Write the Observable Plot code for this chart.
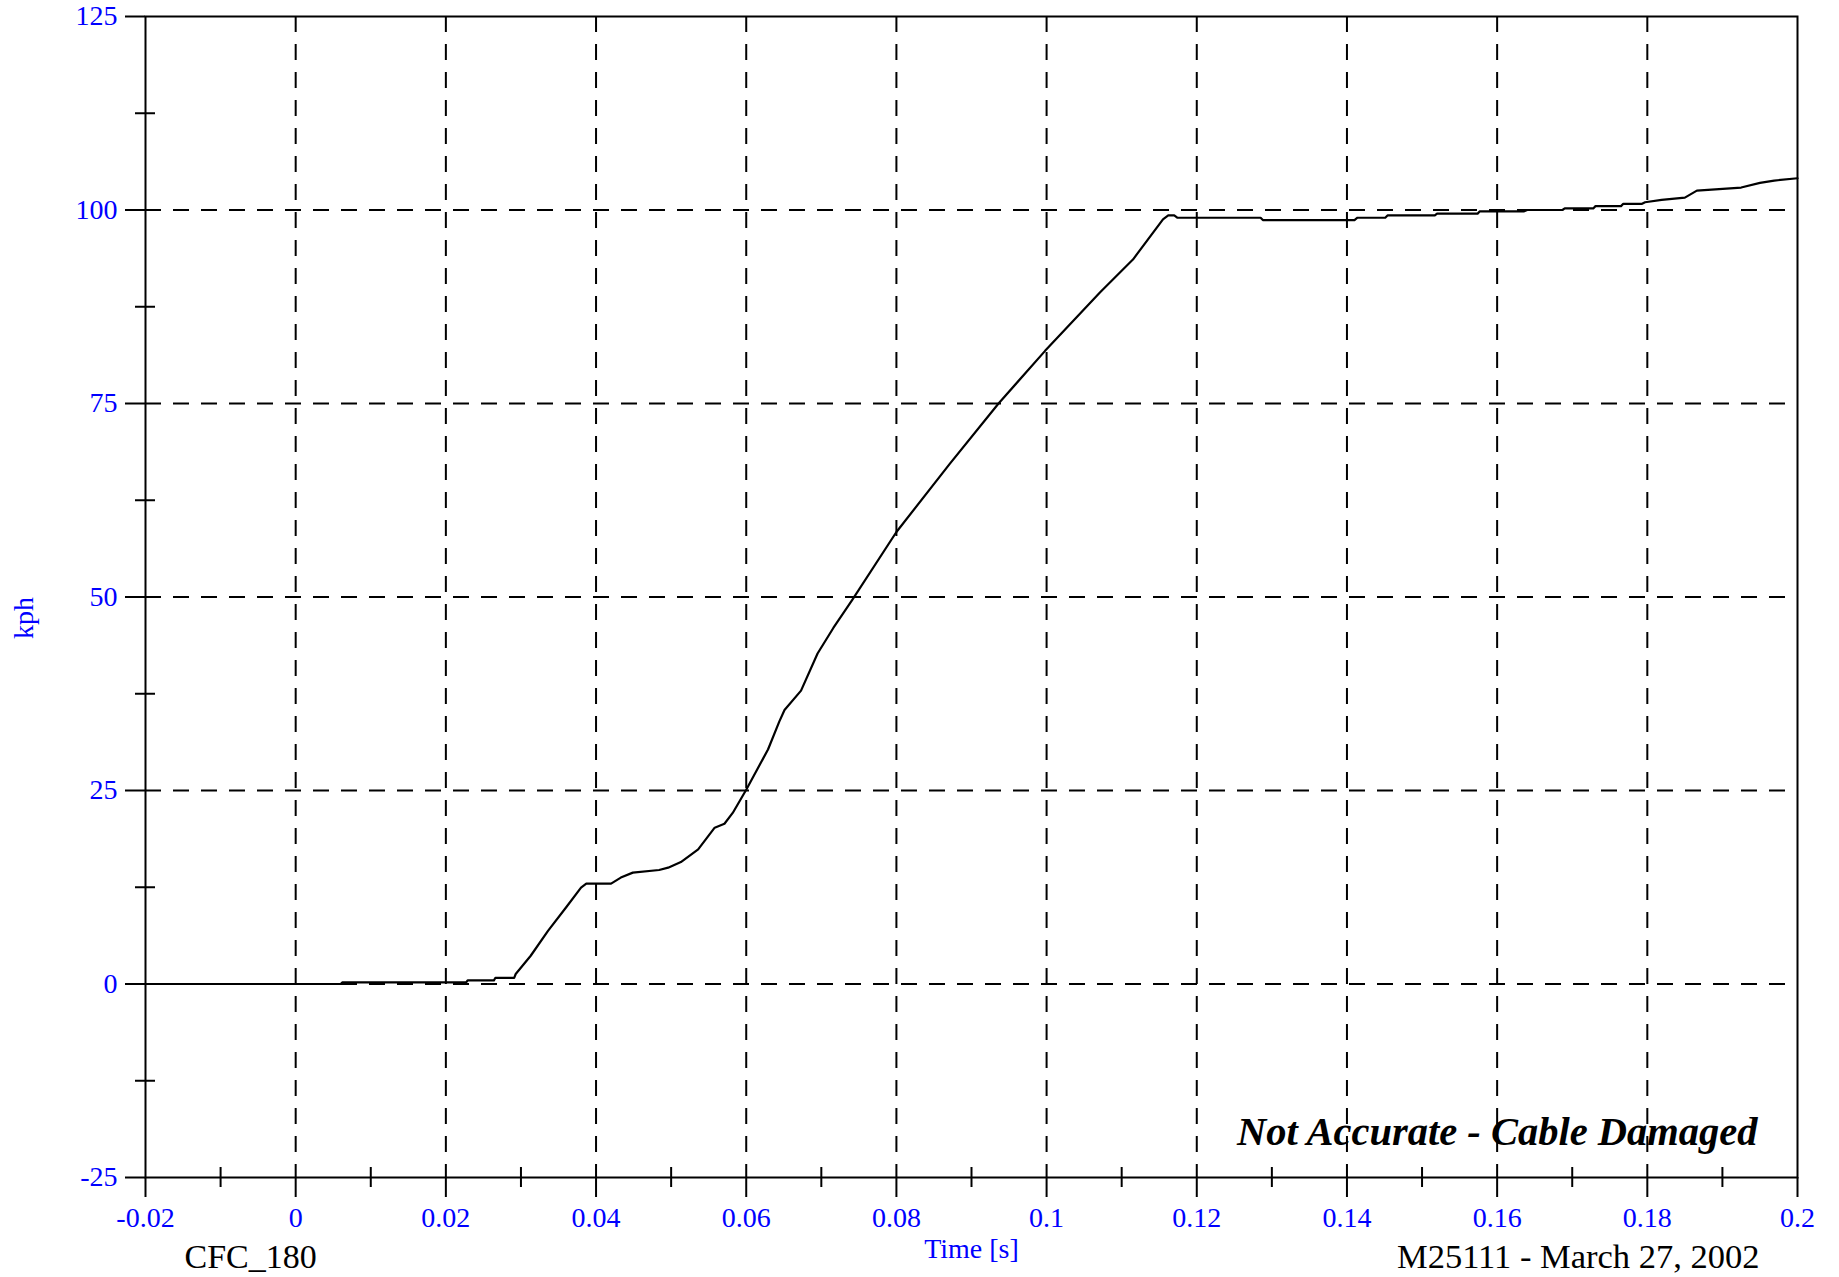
<!DOCTYPE html>
<html>
<head>
<meta charset="utf-8">
<script src="https://cdn.jsdelivr.net/npm/d3@7"></script>
<script src="https://cdn.jsdelivr.net/npm/@observablehq/plot@0.6"></script>
<style>
  html, body { margin: 0; padding: 0; background: #fff; overflow: hidden; }
</style>
</head>
<body>
<div id="chart"></div>
<script>
// ---- data ----
const time = [-0.02, 0.006, 0.0062, 0.0227, 0.0229, 0.0264, 0.0266, 0.0291, 0.0293, 0.0313,
  0.0336, 0.036, 0.038, 0.0387, 0.042, 0.0433, 0.0449, 0.0484, 0.0496, 0.0513,
  0.0536, 0.0558, 0.0571, 0.0582, 0.06, 0.0629, 0.0644, 0.0651, 0.0673, 0.0695,
  0.0716, 0.0741, 0.08, 0.0871, 0.0936, 0.0998, 0.1071, 0.1115, 0.1155, 0.1162,
  0.117, 0.1174, 0.1285, 0.1288, 0.141, 0.1414, 0.1451, 0.1454, 0.1517, 0.152,
  0.1574, 0.1577, 0.1636, 0.164, 0.1687, 0.169, 0.1728, 0.1731, 0.1765, 0.1768,
  0.1793, 0.1797, 0.1819, 0.185, 0.1866, 0.1925, 0.195, 0.1969, 0.2];
const kph = [0, 0, 0.2, 0.2, 0.47, 0.47, 0.8, 0.8, 1.29, 3.65,
  6.87, 9.88, 12.46, 12.97, 12.97, 13.75, 14.39, 14.73, 15.03, 15.76,
  17.4, 20.2, 20.7, 22.1, 25.1, 30.3, 33.9, 35.4, 37.9, 42.7,
  46.0, 49.6, 58.4, 67.2, 75, 81.8, 89.35, 93.6, 98.8, 99.3,
  99.3, 99.0, 99.0, 98.7, 98.7, 99.0, 99.0, 99.3, 99.3, 99.53,
  99.53, 99.83, 99.83, 100, 100, 100.2, 100.2, 100.5, 100.5, 100.8,
  100.8, 101.0, 101.3, 101.6, 102.5, 102.9, 103.5, 103.8, 104.1];

const xMajor = [-0.02, 0, 0.02, 0.04, 0.06, 0.08, 0.1, 0.12, 0.14, 0.16, 0.18, 0.2];
const xMinor = [-0.01, 0.01, 0.03, 0.05, 0.07, 0.09, 0.11, 0.13, 0.15, 0.17, 0.19];
const yMajor = [-25, 0, 25, 50, 75, 100, 125];
const yMinor = [-12.5, 12.5, 37.5, 62.5, 87.5, 112.5];
const xGrid = [0, 0.02, 0.04, 0.06, 0.08, 0.1, 0.12, 0.14, 0.16, 0.18];
const yGrid = [0, 25, 50, 75, 100];

const yLabel = "kph";
const xLabel = "Time [s]";
const filterNote = "CFC_180";
const testNote = "M25111 - March 27, 2002";
const warning = "Not Accurate - Cable Damaged";

const rows = time.map((t, i) => ({t, v: kph[i]}));
const fmtX = d => String(+d.toFixed(2));
const BLUE = "#0000ff";
const FONT = "'Liberation Serif', 'Times New Roman', serif";

const chart = Plot.plot({
  width: 1839,
  height: 1277,
  marginLeft: 145,
  marginRight: 42,
  marginTop: 16,
  marginBottom: 100,
  style: {fontFamily: FONT, fontSize: "28px", background: "#fff", overflow: "visible"},
  x: {domain: [-0.02, 0.2]},
  y: {domain: [-25, 125]},
  marks: [
    Plot.ruleX(xGrid, {stroke: "black", strokeWidth: 2, strokeDasharray: "16,12"}),
    Plot.ruleY(yGrid, {stroke: "black", strokeWidth: 2, strokeDasharray: "16,12"}),
    Plot.axisX({ticks: xMajor, tickSize: 20, tickPadding: 10, tickFormat: fmtX, stroke: "black", strokeWidth: 2,
      fill: BLUE, fontSize: 28, label: null}),
    Plot.axisX({ticks: xMinor, tickSize: 20, dy: -10, tickFormat: () => "", stroke: "black", strokeWidth: 2, label: null}),
    Plot.axisY({ticks: yMajor, tickSize: 20, tickPadding: 8, tickFormat: d => String(d), stroke: "black", strokeWidth: 2,
      fill: BLUE, fontSize: 28, label: null}),
    Plot.axisY({ticks: yMinor, tickSize: 20, dx: 10, tickFormat: () => "", stroke: "black", strokeWidth: 2, label: null}),
    Plot.frame({stroke: "black", strokeWidth: 2}),
    Plot.line(rows, {x: "t", y: "v", stroke: "black", strokeWidth: 2.2}),
    Plot.text([yLabel], {text: d => d, frameAnchor: "left", dx: -121, dy: 42, rotate: -90, fill: BLUE, fontSize: 28}),
    Plot.text([xLabel], {text: d => d, frameAnchor: "bottom", dx: 0, dy: 80, fill: BLUE, fontSize: 28}),
    Plot.text([filterNote], {text: d => d, frameAnchor: "bottom-left", textAnchor: "start", dx: 39, dy: 90, fill: "black", fontSize: 34}),
    Plot.text([testNote], {text: d => d, frameAnchor: "bottom-right", textAnchor: "end", dx: -38, dy: 90, fill: "black", fontSize: 34.5}),
    Plot.text([warning], {text: d => d, frameAnchor: "bottom-right", textAnchor: "end", dx: -40, dy: -33, fill: "black",
      fontSize: 40.5, fontWeight: "bold", fontStyle: "italic"})
  ]
});
document.getElementById("chart").appendChild(chart);
</script>
</body>
</html>
